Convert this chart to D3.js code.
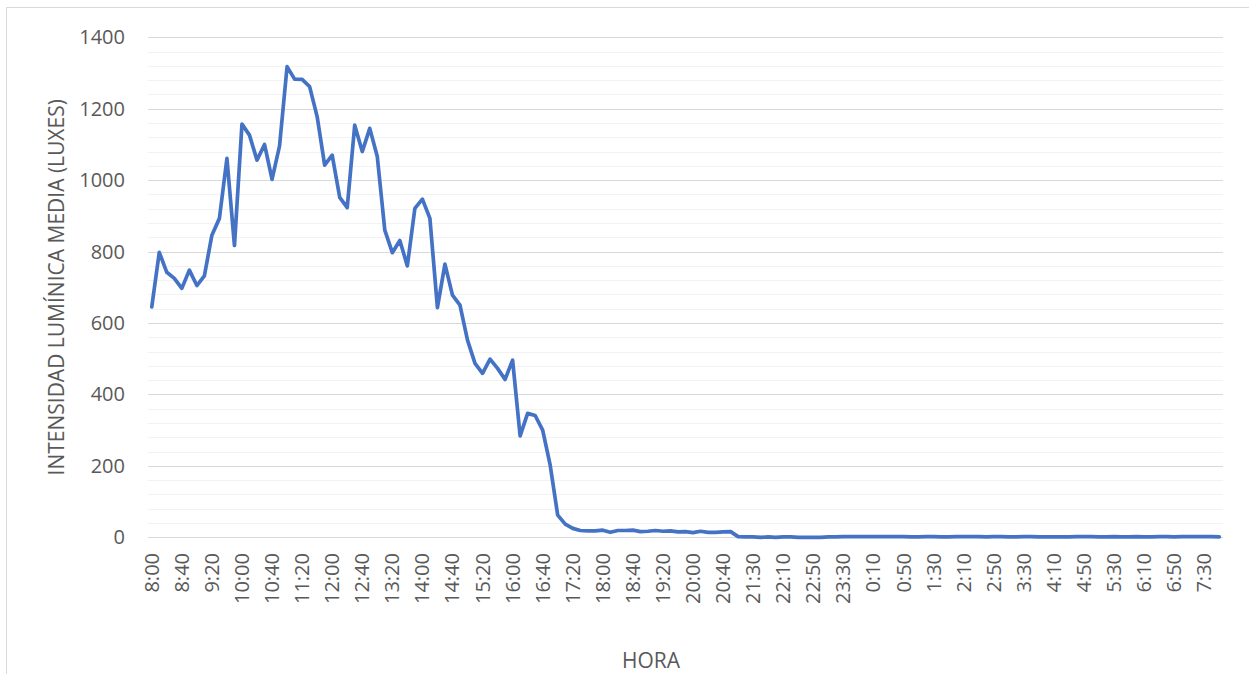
<!DOCTYPE html>
<html>
<head>
<meta charset="utf-8">
<script src="https://cdn.jsdelivr.net/npm/d3@7"></script>
<style>
  html, body { margin: 0; padding: 0; background: #fff; }
  svg { display: block; font-family: 'Open Sans', sans-serif; }
  .tick-label, .axis-title { fill: #595959; }
</style>
</head>
<body>
<svg id="chart" width="1249" height="674"></svg>
<script>
const times = [
  '8:00', '8:10', '8:20', '8:30', '8:40', '8:50',
  '9:00', '9:10', '9:20', '9:30', '9:40', '9:50',
  '10:00', '10:10', '10:20', '10:30', '10:40', '10:50',
  '11:00', '11:10', '11:20', '11:30', '11:40', '11:50',
  '12:00', '12:10', '12:20', '12:30', '12:40', '12:50',
  '13:00', '13:10', '13:20', '13:30', '13:40', '13:50',
  '14:00', '14:10', '14:20', '14:30', '14:40', '14:50',
  '15:00', '15:10', '15:20', '15:30', '15:40', '15:50',
  '16:00', '16:10', '16:20', '16:30', '16:40', '16:50',
  '17:00', '17:10', '17:20', '17:30', '17:40', '17:50',
  '18:00', '18:10', '18:20', '18:30', '18:40', '18:50',
  '19:00', '19:10', '19:20', '19:30', '19:40', '19:50',
  '20:00', '20:10', '20:20', '20:30', '20:40', '20:50',
  '21:10', '21:20', '21:30', '21:40', '21:50',
  '22:00', '22:10', '22:20', '22:30', '22:40', '22:50',
  '23:00', '23:10', '23:20', '23:30', '23:40', '23:50',
  '0:00', '0:10', '0:20', '0:30', '0:40', '0:50',
  '1:00', '1:10', '1:20', '1:30', '1:40', '1:50',
  '2:00', '2:10', '2:20', '2:30', '2:40', '2:50',
  '3:00', '3:10', '3:20', '3:30', '3:40', '3:50',
  '4:00', '4:10', '4:20', '4:30', '4:40', '4:50',
  '5:00', '5:10', '5:20', '5:30', '5:40', '5:50',
  '6:00', '6:10', '6:20', '6:30', '6:40', '6:50',
  '7:00', '7:10', '7:20', '7:30', '7:40', '7:50'
];

const lux = [
  645, 798, 742, 725, 697, 748, 705, 732, 846, 893,
  1061, 817, 1157, 1126, 1056, 1100, 1002, 1096, 1318, 1283,
  1282, 1262, 1178, 1042, 1070, 952, 923, 1154, 1080, 1145,
  1066, 860, 797, 831, 760, 921, 947, 893, 643, 765,
  678, 650, 552, 487, 459, 499, 473, 442, 496, 284,
  347, 341, 300, 202, 62, 37, 25, 19, 18, 18,
  20, 14, 19, 19, 20, 16, 17, 19, 17, 18,
  15, 16, 13, 17, 14, 14, 15, 16, 2, 1,
  1, 0, 1, 0, 1, 1, 0, 0, 0, 0,
  1, 1, 2, 2, 2, 2, 2, 2, 2, 2,
  2, 1, 1, 2, 2, 1, 1, 2, 2, 2,
  2, 1, 2, 2, 1, 1, 2, 2, 1, 1,
  1, 1, 1, 2, 2, 2, 1, 1, 2, 1,
  1, 2, 1, 1, 2, 2, 1, 2, 2, 2,
  2, 2, 1
];

const yTicks = [0, 200, 400, 600, 800, 1000, 1200, 1400];
const yMinorTicks = d3.range(0, 1401, 40);
const labelEvery = 4;

const svg = d3.select('#chart');
const margin = { left: 148, right: 1223, top: 37.3, bottom: 537.3 };

// chart frame (cut off at the right and bottom like the capture)
svg.append('rect')
  .attr('x', 6.5).attr('y', 7.5)
  .attr('width', 1260).attr('height', 700)
  .attr('fill', '#fff')
  .attr('stroke', '#d9d9d9');

const x = d3.scaleBand().domain(times).range([margin.left, margin.right]).padding(0);
const y = d3.scaleLinear().domain([0, 1400]).range([margin.bottom, margin.top]);

svg.append('g')
  .selectAll('line')
  .data(yMinorTicks.filter((v) => v % 200 !== 0))
  .join('line')
  .attr('x1', margin.left).attr('x2', margin.right)
  .attr('y1', (d) => Math.round(y(d)) + 0.5).attr('y2', (d) => Math.round(y(d)) + 0.5)
  .attr('stroke', '#f2f2f2').attr('stroke-width', 1);

svg.append('g')
  .selectAll('line')
  .data(yTicks)
  .join('line')
  .attr('x1', margin.left).attr('x2', margin.right)
  .attr('y1', (d) => Math.round(y(d)) + 0.5).attr('y2', (d) => Math.round(y(d)) + 0.5)
  .attr('stroke', '#d9d9d9').attr('stroke-width', 1);

svg.append('g')
  .selectAll('text')
  .data(yTicks)
  .join('text')
  .attr('class', 'tick-label')
  .attr('x', 125)
  .attr('y', (d) => y(d))
  .attr('dy', '0.35em')
  .attr('text-anchor', 'end')
  .attr('font-size', 20)
  .text((d) => d);

svg.append('g')
  .selectAll('text')
  .data(times.filter((_, i) => i % labelEvery === 0))
  .join('text')
  .attr('class', 'tick-label')
  .attr('transform', (d) => `translate(${x(d) + x.bandwidth() / 2},553) rotate(-90)`)
  .attr('dy', '0.35em')
  .attr('text-anchor', 'end')
  .attr('font-size', 20)
  .text((d) => d);

const line = d3.line()
  .x((d, i) => x(times[i]) + x.bandwidth() / 2)
  .y((d) => y(d));

svg.append('path')
  .datum(lux)
  .attr('d', line)
  .attr('fill', 'none')
  .attr('stroke', '#4472c4')
  .attr('stroke-width', 3.7)
  .attr('stroke-linejoin', 'round')
  .attr('stroke-linecap', 'round');

svg.append('text')
  .attr('class', 'axis-title')
  .attr('transform', `translate(57,${(margin.top + margin.bottom) / 2}) rotate(-90)`)
  .attr('dy', '0.35em')
  .attr('text-anchor', 'middle')
  .attr('font-size', 21)
  .text('INTENSIDAD LUMÍNICA MEDIA (LUXES)');

svg.append('text')
  .attr('class', 'axis-title')
  .attr('x', 651)
  .attr('y', 661)
  .attr('dy', '0.35em')
  .attr('text-anchor', 'middle')
  .attr('font-size', 21)
  .text('HORA');
</script>
</body>
</html>
